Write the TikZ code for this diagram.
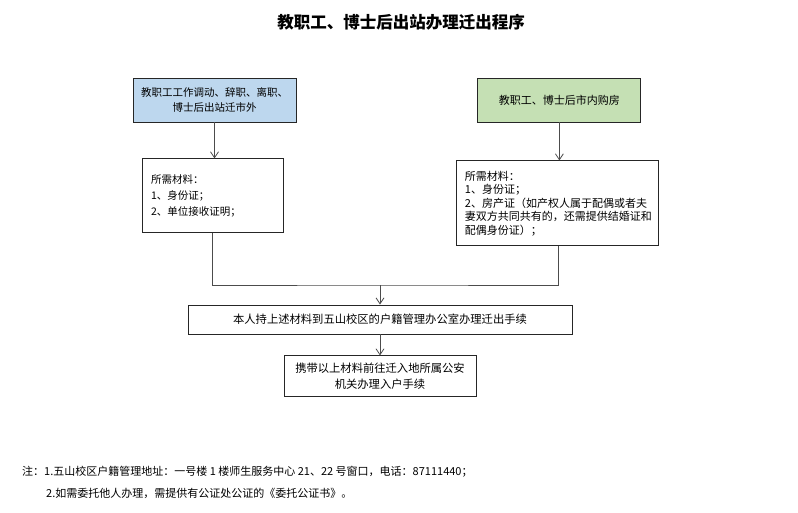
\documentclass[tikz,border=0pt]{standalone}
\usepackage{fontspec}
\newfontfamily\cjk{Noto Sans CJK SC}
\usetikzlibrary{positioning,arrows.meta}
\definecolor{boxblue}{RGB}{189,215,238}
\definecolor{boxgreen}{RGB}{197,224,180}
\begin{document}
\begin{tikzpicture}[x=1pt,y=-1pt,
    font=\cjk\fontsize{10.5}{15}\selectfont,
    stepbox/.style={draw=black!85, line width=0.9pt, inner sep=0pt},
    flow/.style={draw=black!70, line width=0.8pt},
    arr/.style={flow, -{Straight Barb[length=6pt,width=8pt]}},
    notetext/.style={anchor=west, inner sep=0pt, font=\cjk\fontsize{11}{14}\selectfont}]
  \useasboundingbox (0,0) rectangle (798,512);
  \node (title) at (401,22) {\fontsize{16.5}{20}\selectfont\bfseries 教职工、博士后出站办理迁出程序};

  \node[stepbox, fill=boxblue, minimum width=163pt, minimum height=44pt, align=center] (leave) at (214.5,100)
    {教职工工作调动、辞职、离职、\\博士后出站迁市外};
  \node[stepbox, fill=boxgreen, minimum width=163pt, minimum height=44pt, right=181pt of leave,
    font=\cjk\fontsize{11}{15}\selectfont] (buy) {教职工、博士后市内购房};

  \node[stepbox, below=36pt of leave, xshift=-2pt, text width=123pt, inner xsep=9pt, minimum height=74pt,
    align=left, font=\cjk\fontsize{10.5}{16}\selectfont] (leavedoc)
    {所需材料：\\1、身份证；\\2、单位接收证明；};
  \node[stepbox, below=38pt of buy, xshift=-1.5pt, text width=186pt, inner xsep=8pt, minimum height=85pt,
    align=left, font=\cjk\fontsize{11}{13.5}\selectfont] (buydoc)
    {所需材料：\\1、身份证；\\2、房产证（如产权人属于配偶或者夫\\妻双方共同共有的，还需提供结婚证和\\配偶身份证）；};

  \coordinate (join) at (380,285);
  \node[stepbox, minimum width=384pt, minimum height=29pt, font=\cjk\fontsize{11.3}{15}\selectfont] (office) at (380,319.5)
    {本人持上述材料到五山校区的户籍管理办公室办理迁出手续};
  \node[stepbox, below=21pt of office, minimum width=192pt, minimum height=41pt, align=center,
    font=\cjk\fontsize{11.3}{16}\selectfont] (police)
    {携带以上材料前往迁入地所属公安\\机关办理入户手续};

  \draw[arr] (leave.south) -- (leave.south |- leavedoc.north);
  \draw[arr] (buy.south) -- (buy.south |- buydoc.north);
  \draw[flow] (leavedoc.south) |- (join) -| (buydoc.south);
  \draw[arr] (join) -- (office.north);
  \draw[arr] (office.south) -- (police.north);

  \node[notetext] (note1) at (22,472) {注：1.五山校区户籍管理地址：一号楼 1 楼师生服务中心 21、22 号窗口，电话：87111440；};
  \node[notetext] (note2) at (46,493) {2.如需委托他人办理，需提供有公证处公证的《委托公证书》。};
\end{tikzpicture}
\end{document}
